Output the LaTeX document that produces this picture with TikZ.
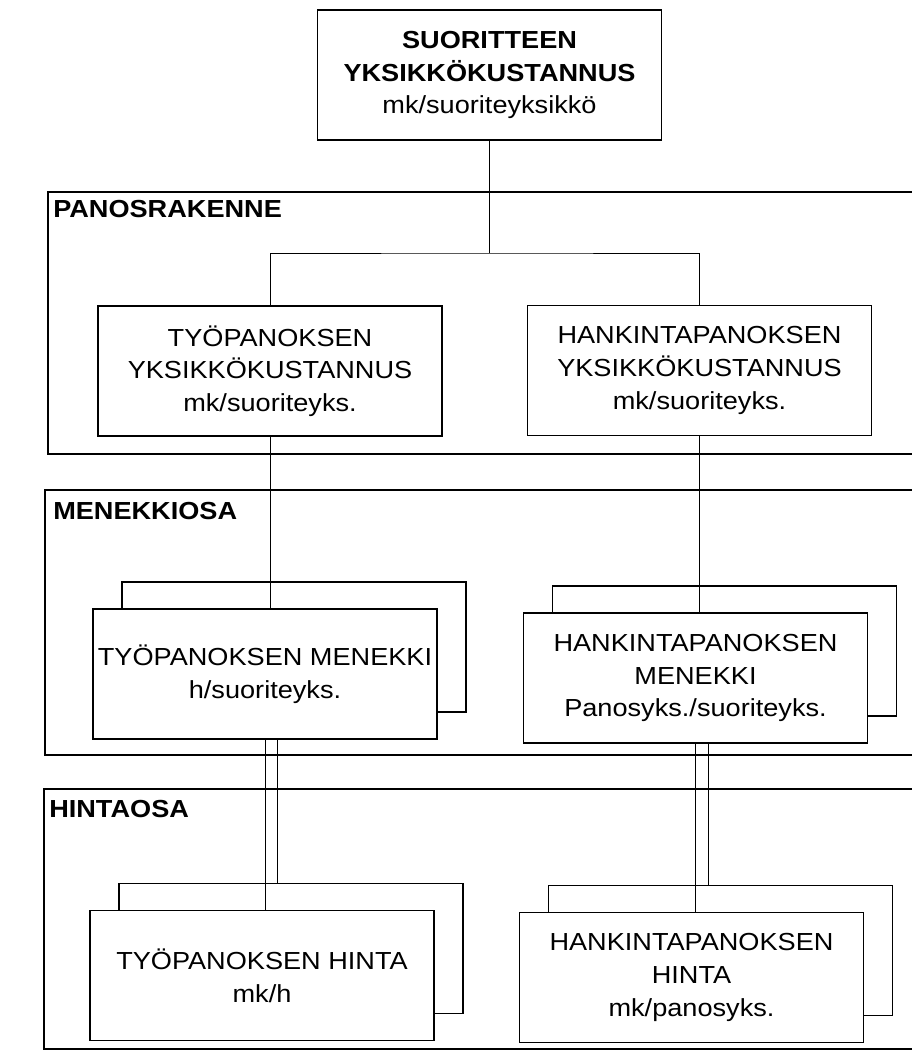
\documentclass[tikz,border=0pt]{standalone}
\usepackage{fontspec}
\setmainfont{Liberation Sans}[FakeStretch=1.1]
\usepackage{tikz}
\usetikzlibrary{positioning,calc}

\begin{document}
\begin{tikzpicture}[
    x=0.75pt, y=-0.75pt,
    font=\fontsize{18.5}{24.5}\selectfont,
    box/.style={rectangle, draw=black, line width=0.9pt, fill=white,
                minimum width=258pt, minimum height=97.5pt,
                align=center, inner sep=2pt},
    backbox/.style={rectangle, draw=black, line width=0.9pt,
                    minimum width=258pt, minimum height=97.5pt},
    panel/.style={draw=black, line width=1.1pt},
    seclabel/.style={font=\bfseries\fontsize{18.5}{22}\selectfont,
                     anchor=north west, inner sep=0pt},
    link/.style={draw=black, line width=0.7pt}
]
\useasboundingbox (0,0) rectangle (912,1053);

% Panels (open to the right)
\draw[panel] (912,192) -| (48,454) -- (912,454);
\draw[panel] (912,490) -| (45,755) -- (912,755);
\draw[panel] (912,789) -| (44,1049) -- (912,1049);
\node[seclabel] (lpanos) at (53,200) {PANOSRAKENNE};
\node[seclabel] (lmenek) at (53,502) {MENEKKIOSA};
\node[seclabel] (lhinta) at (49,800) {HINTAOSA};

% Top box
\node[box, font=\bfseries\fontsize{18.5}{24.5}\selectfont, minimum height=97.5pt]
    (suorite) at (489.5,75)
    {SUORITTEEN\\YKSIKKÖKUSTANNUS\\{\mdseries mk/suoriteyksikkö}};

% Panosrakenne
\node[box] (tyokust) at (270,371) {TYÖPANOKSEN\\YKSIKKÖKUSTANNUS\\mk/suoriteyks.};
\node[box] (hankkust) at (699.5,370.5) {HANKINTAPANOKSEN\\YKSIKKÖKUSTANNUS\\mk/suoriteyks.};

% Menekkiosa (stacked boxes)
\node[backbox] (tyomenb) at ($(265,674)+(29,-27)$) {};
\node[backbox] (hankmenb) at ($(695.5,678)+(29,-27)$) {};
\node[box] (tyomen) at (265,674) {TYÖPANOKSEN MENEKKI\\h/suoriteyks.};
\node[box] (hankmen) at (695.5,678) {HANKINTAPANOKSEN\\MENEKKI\\Panosyks./suoriteyks.};

% Hintaosa (stacked boxes)
\node[backbox] (tyohinb) at ($(262,975.5)+(29,-27)$) {};
\node[backbox] (hankhinb) at ($(691.5,977.5)+(29,-27)$) {};
\node[box] (tyohin) at (262,975.5) {TYÖPANOKSEN HINTA\\mk/h};
\node[box] (hankhin) at (691.5,977.5) {HANKINTAPANOKSEN\\HINTA\\mk/panosyks.};

% Connectors
\coordinate (split) at (489.5,253);
\draw[link] (suorite.south) -- (split);
\draw[link] (tyokust.north) |- (split) -| (hankkust.north);
\draw[link] (tyokust.south) -- (tyokust.south |- tyomen.north);
\draw[link] (hankkust.south) -- (hankkust.south |- hankmen.north);

\coordinate (tm2) at ($(tyomen.south)+(12,0)$);
\coordinate (hm2) at ($(hankmen.south)+(13,0)$);
\draw[link] (tyomen.south) -- (tyomen.south |- tyohin.north);
\draw[link] (tm2) -- (tm2 |- tyohinb.north);
\draw[link] (hankmen.south) -- (hankmen.south |- hankhin.north);
\draw[link] (hm2) -- (hm2 |- hankhinb.north);

\end{tikzpicture}
\end{document}
